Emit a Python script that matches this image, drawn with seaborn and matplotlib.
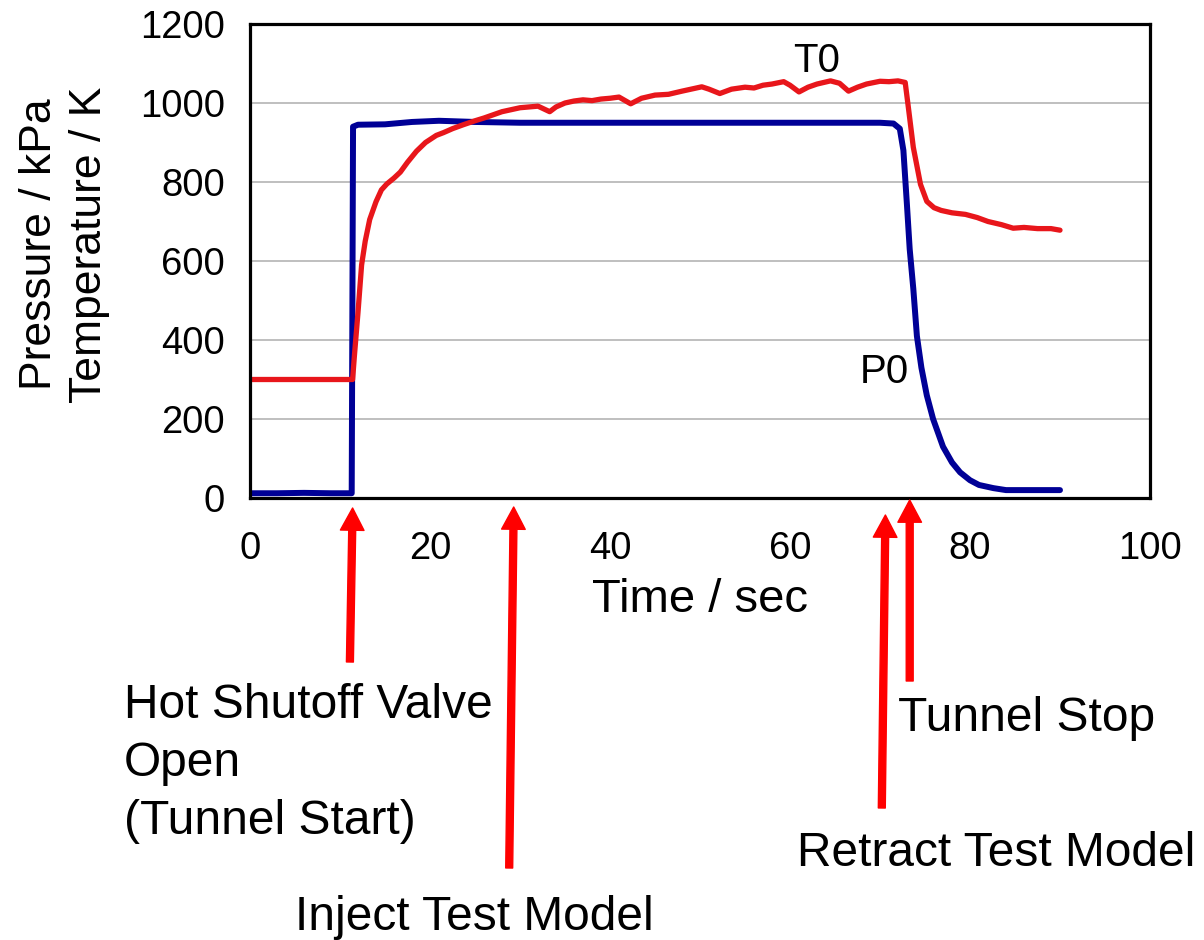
import seaborn as sns
import pandas as pd
import numpy as np
import matplotlib.pyplot as plt

# stagnation pressure P0 / kPa
p0_time = [0, 3, 6, 9, 11.3, 11.45, 12, 15, 18, 21, 25, 30, 40, 50, 60, 70, 71.5,
           72.2, 72.6, 73.0, 73.3, 73.7, 74.1, 74.6, 75.2, 75.9, 77, 78, 78.9,
           80, 81, 82.6, 84, 87, 90]
p0_val = [12, 12, 13, 12, 12, 940, 945, 946, 952, 955, 952, 950, 950, 950, 950,
          950, 948, 935, 880, 740, 630, 530, 410, 330, 260, 200, 130, 90, 65,
          45, 33, 25, 20, 20, 20]

# stagnation temperature T0 / K
t0_time = [0, 5, 11.4, 11.6, 12.0, 12.4, 12.8, 13.3, 14.0, 14.6, 15.2, 16.0, 16.7,
           17.5, 18.5, 19.5, 20.7, 21.5, 22.5, 23.7, 25, 26, 27, 28, 29, 30, 31,
           32, 33.3, 34, 35, 36, 37, 38, 39, 40, 41, 42.3, 43.5, 45, 46.5, 48, 49,
           50.2, 51, 52.2, 53.5, 55, 56, 57, 58, 59.3, 60, 61, 62, 63, 64.5, 65.5,
           66.5, 67.5, 68.5, 70, 71, 72, 72.8, 73.2, 73.7, 74.5, 75.2, 76, 76.8,
           78, 79.5, 80.8, 82, 83.5, 84.8, 86, 87.5, 89, 90]
t0_val = [300, 300, 300, 360, 470, 590, 650, 705, 750, 780, 795, 810, 825,
          850, 878, 900, 918, 925, 935, 945, 955, 962, 970, 978, 983, 988, 990,
          992, 978, 990, 1000, 1005, 1008, 1006, 1010, 1012, 1015, 998, 1012, 1020,
          1022, 1030, 1035, 1041, 1035, 1024, 1035, 1040, 1038, 1045, 1048, 1054,
          1045, 1028, 1040, 1048, 1056, 1050, 1030, 1040, 1048, 1055, 1054, 1056,
          1052, 980, 888, 794, 751, 735, 728, 722, 718, 710, 700, 692, 683, 685,
          682, 682, 678]

# events: arrow tip time, arrow tail time, label
event_tip = [11.4, 29.3, 70.6, 73.3]
event_tail = [11.1, 28.8, 70.2, 73.3]
event_text = ["Hot Shutoff Valve\nOpen\n(Tunnel Start)", "Inject Test Model",
              "Retract Test Model", "Tunnel Stop"]
# pixel rows (from top) of arrow tip / tail, label left edge and top
tip_row = [508, 507, 515, 500]
tail_row = [662, 868, 808, 681]
text_left = [124, 295, 797, 898]
text_top = [683, 895, 831, 696]

sns.set_theme(style="white")
plt.rcParams['font.family'] = ['Liberation Sans', 'DejaVu Sans']
plt.rcParams['text.color'] = 'black'
plt.rcParams['axes.labelcolor'] = 'black'

fig = plt.figure(figsize=(12.04, 9.40), dpi=100)
ax = fig.add_axes([250 / 1204, 1 - 498 / 940, 900 / 1204, 474 / 940])

p0 = pd.DataFrame({"t": p0_time, "v": p0_val})
t0 = pd.DataFrame({"t": t0_time, "v": t0_val})
sns.lineplot(data=p0, x="t", y="v", ax=ax, color="#000096", lw=4.3,
             sort=False, estimator=None)
sns.lineplot(data=t0, x="t", y="v", ax=ax, color="#E8161B", lw=3.8,
             sort=False, estimator=None)

ax.set_xlim(0, 100)
ax.set_ylim(0, 1200)
ax.set_xticks(range(0, 101, 20))
ax.set_yticks(range(0, 1201, 200))
ax.yaxis.grid(True, color="#b4b4b4", lw=1.2)
ax.xaxis.grid(False)
ax.set_axisbelow(True)
for s in ax.spines.values():
    s.set_color("black")
    s.set_linewidth(2.3)
ax.tick_params(direction="in", length=7, width=2.2, labelsize=27.5, colors="black")
ax.tick_params(axis="x", pad=24)
ax.tick_params(axis="y", pad=18)

ax.set_xlabel("Time / sec", fontsize=34, labelpad=8)
ax.set_ylabel("Pressure / kPa\nTemperature / K", fontsize=32, linespacing=1.3)
ax.yaxis.set_label_coords(-0.155, 0.535)

ax.text(60.3, 1078, "T0", fontsize=29)
ax.text(67.8, 291, "P0", fontsize=29)

for tip, tail, txt, tr, lr, xl, yt in zip(event_tip, event_tail, event_text,
                                         tip_row, tail_row, text_left, text_top):
    ax.annotate("", xy=(tip, 940 - tr), xytext=(tail, 940 - lr),
                xycoords=("data", "figure pixels"), textcoords=("data", "figure pixels"),
                arrowprops=dict(facecolor="#FF0000", edgecolor="#FF0000",
                                width=5, headwidth=17, headlength=16, shrink=0),
                annotation_clip=False)
    fig.text(xl / 1204, 1 - yt / 940, txt, fontsize=34.5, ha="left", va="top",
             linespacing=1.37)

fig.savefig("out.png", dpi=100)
